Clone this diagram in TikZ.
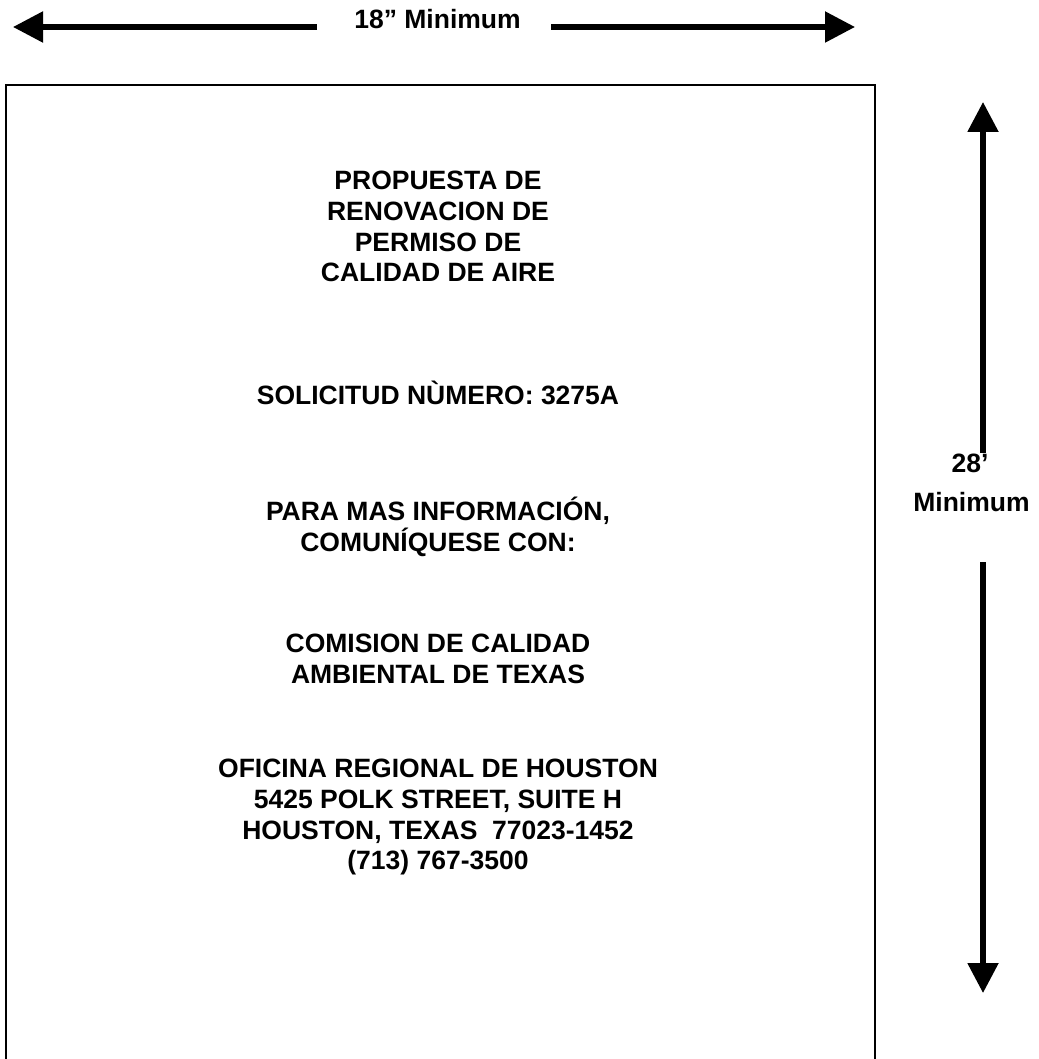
\documentclass[tikz,border=0pt]{standalone}
\usepackage{fontspec}
\setmainfont{Liberation Sans}
\usetikzlibrary{arrows.meta}
\begin{document}
\begin{tikzpicture}[x=1pt,y=-1pt,
  lbl/.style={font=\fontsize{26.5}{30}\selectfont\bfseries, inner sep=0pt, anchor=base},
  dimarrow/.style={line width=5.3pt, -{Triangle[length=30pt,width=30pt]}},
  frame/.style={line width=2.6pt}]
\useasboundingbox (0,0) rectangle (1038,1059);
\clip (0,0) rectangle (1038,1059);
% sign frame (bottom edge runs off the page)
\draw[frame] (6,85) rectangle (875,1090);
% width dimension
\node[lbl] (wlab) at (437.5,29) {18” Minimum};
\coordinate (wl0) at (317,27);
\coordinate (wl1) at (13,27);
\coordinate (wr0) at (551,27);
\coordinate (wr1) at (855,27);
\draw[dimarrow] (wl0) -- (wl1);
\draw[dimarrow] (wr0) -- (wr1);
% height dimension
\node[lbl] (hlab1) at (970,472) {28’};
\node[lbl] (hlab2) at (971.5,511) {Minimum};
\coordinate (hu0) at (983,453);
\coordinate (hu1) at (983,102);
\coordinate (hd0) at (983,562);
\coordinate (hd1) at (983,993);
\draw[dimarrow] (hu0) -- (hu1);
\draw[dimarrow] (hd0) -- (hd1);
% sign text
\node[lbl] (t1)  at (438,189.5) {PROPUESTA DE};
\node[lbl] (t2)  at (438,220.3) {RENOVACION DE};
\node[lbl] (t3)  at (438,251.1) {PERMISO DE};
\node[lbl] (t4)  at (438,281.9) {CALIDAD DE AIRE};
\node[lbl] (t5)  at (438,404.5) {SOLICITUD NÙMERO: 3275A};
\node[lbl] (t6)  at (438,520.5) {PARA MAS INFORMACIÓN,};
\node[lbl] (t7)  at (438,551.3) {COMUNÍQUESE CON:};
\node[lbl] (t8)  at (438,652.5) {COMISION DE CALIDAD};
\node[lbl] (t9)  at (438,683.3) {AMBIENTAL DE TEXAS};
\node[lbl] (t10) at (438,777.5) {OFICINA REGIONAL DE HOUSTON};
\node[lbl] (t11) at (438,808.3) {5425 POLK STREET, SUITE H};
\node[lbl] (t12) at (438,839.1) {HOUSTON, TEXAS\ \ 77023-1452};
\node[lbl] (t13) at (438,869.9) {(713) 767-3500};
\end{tikzpicture}
\end{document}
